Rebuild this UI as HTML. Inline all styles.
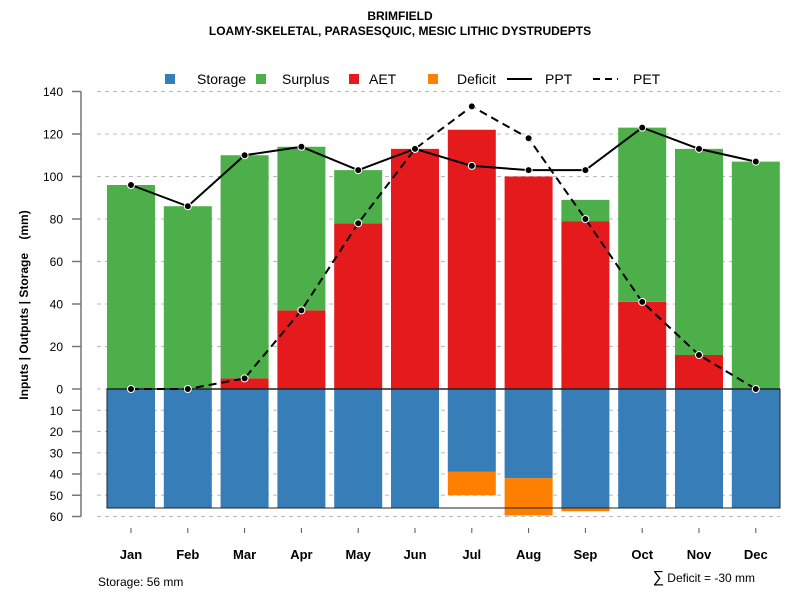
<!DOCTYPE html>
<html><head><meta charset="utf-8"><style>
body{margin:0;background:#fff}
svg{display:block;font-family:"Liberation Sans",sans-serif}
</style></head><body>
<svg id="c" width="800" height="600" xmlns="http://www.w3.org/2000/svg">
<text x="400" y="20" text-anchor="middle" font-size="12" font-weight="bold">BRIMFIELD</text>
<text x="400" y="35" text-anchor="middle" font-size="12" font-weight="bold">LOAMY-SKELETAL, PARASESQUIC, MESIC LITHIC DYSTRUDEPTS</text>
<g id="grid"></g>
<g id="bars"></g>
<g id="lines"></g>
<g id="axis"></g>
<g id="xaxis"></g>
<text transform="translate(28,305) rotate(-90)" text-anchor="middle" font-size="12" font-weight="bold" style="white-space:pre">Inputs | Outputs | Storage    (mm)</text>
<g font-size="14">
<rect x="165" y="74" width="10" height="10" fill="#377eb8"/>
<text x="197" y="84">Storage</text>
<rect x="256" y="74" width="10" height="10" fill="#4daf4a"/>
<text x="282" y="84">Surplus</text>
<rect x="349" y="74" width="10" height="10" fill="#e41a1c"/>
<text x="369" y="84">AET</text>
<rect x="428" y="74" width="10" height="10" fill="#ff7f00"/>
<text x="457" y="84">Deficit</text>
<line x1="507" y1="79" x2="532" y2="79" stroke="#000" stroke-width="2"/>
<text x="545" y="84">PPT</text>
<line x1="593" y1="79" x2="618" y2="79" stroke="#000" stroke-width="2" stroke-dasharray="7,5"/>
<text x="633" y="84">PET</text>
</g>
<text x="98" y="586" font-size="12">Storage: 56 mm</text>
<text x="755" y="582" text-anchor="end" font-size="12"><tspan font-size="16">∑</tspan> Deficit = -30 mm</text>
</svg>
<script>
const months=["Jan","Feb","Mar","Apr","May","Jun","Jul","Aug","Sep","Oct","Nov","Dec"];
const ppt=[96,86,110,114,103,113,105,103,103,123,113,107];
const pet=[0,0,5,37,78,113,133,118,80,41,16,0];
const aet=[0,0,5,37,78,113,122,100,79,41,16,0];
const surplus=[96,86,105,77,25,0,0,0,10,82,97,107];
const storage=[56,56,56,56,56,56,39,42,56,56,56,56];
const deficit=[0,0,0,0,0,0,11,17.5,1.5,0,0,0];
const upTicks=[0,20,40,60,80,100,120,140];
const downTicks=[10,20,30,40,50,60];
const capacity=56;
const NS="http://www.w3.org/2000/svg";
const y0=389,k=2.125;
const yUp=v=>y0-v*k, yDn=v=>y0+v*k;
const xC=i=>131+i*56.8, bw=48;
function mk(t,a,p){const e=document.createElementNS(NS,t);for(const n in a)e.setAttribute(n,a[n]);(p||document.getElementById('c')).appendChild(e);return e;}
const grid=document.getElementById('grid'),bars=document.getElementById('bars'),lines=document.getElementById('lines'),ax=document.getElementById('axis'),xa=document.getElementById('xaxis');
const allT=upTicks.map(v=>[yUp(v),v]).concat(downTicks.map(v=>[yDn(v),v]));
allT.forEach(([y,v])=>{
 const g=mk('line',{x1:97,x2:780,y1:y,y2:y,stroke:'#bbb','stroke-dasharray':'4,4'},grid);
 
 
 const t=mk('line',{x1:72,x2:81,y1:y,y2:y,stroke:'#777','stroke-width':1.5},ax);
 
 
 const l=mk('text',{x:63,y:y+4.5,'text-anchor':'end','font-size':12},ax);l.textContent=v;
 
 
});
const axl=mk('line',{x1:81,x2:81,y1:yUp(140),y2:yDn(60),stroke:'#777','stroke-width':1.5},ax);


months.forEach((m,i)=>{
 const x=xC(i)-bw/2;
 const r1=mk('rect',{x:x,y:yUp(aet[i]),width:bw,height:aet[i]*k,fill:'#e41a1c'},bars);
 
 
 const r2=mk('rect',{x:x,y:yUp(aet[i]+surplus[i]),width:bw,height:surplus[i]*k,fill:'#4daf4a'},bars);
 
 
 const r3=mk('rect',{x:x,y:y0,width:bw,height:storage[i]*k,fill:'#377eb8'},bars);
 
 
 const r4=mk('rect',{x:x,y:yDn(storage[i]),width:bw,height:deficit[i]*k,fill:'#ff7f00'},bars);
 
 
 const tk=mk('line',{x1:xC(i),x2:xC(i),y1:528,y2:533,stroke:'#555'},xa);
 
 
 const t=mk('text',{x:xC(i),y:559,'text-anchor':'middle','font-size':13,'font-weight':'bold'},xa);t.textContent=m;
 
 
});
const cap=mk('rect',{x:107,y:y0,width:673,height:capacity*k,fill:'none',stroke:'#222','stroke-width':1},bars);


const zl=mk('line',{x1:107,x2:780,y1:y0,y2:y0,stroke:'#222','stroke-width':1.5},bars);


function series(arr,name,dash){
 const p=mk('polyline',{points:arr.map((v,i)=>xC(i)+','+yUp(v)).join(' '),fill:'none',stroke:'#000','stroke-width':2,'stroke-dasharray':dash||'none'},lines);
 
 
 arr.forEach((v,i)=>{const c=mk('circle',{cx:xC(i),cy:yUp(v),r:3.5,fill:'#000',stroke:'#fff','stroke-width':1},lines);
 
 });
}
series(pet,'pet','8,5');
series(ppt,'ppt');
</script>
</body></html>
